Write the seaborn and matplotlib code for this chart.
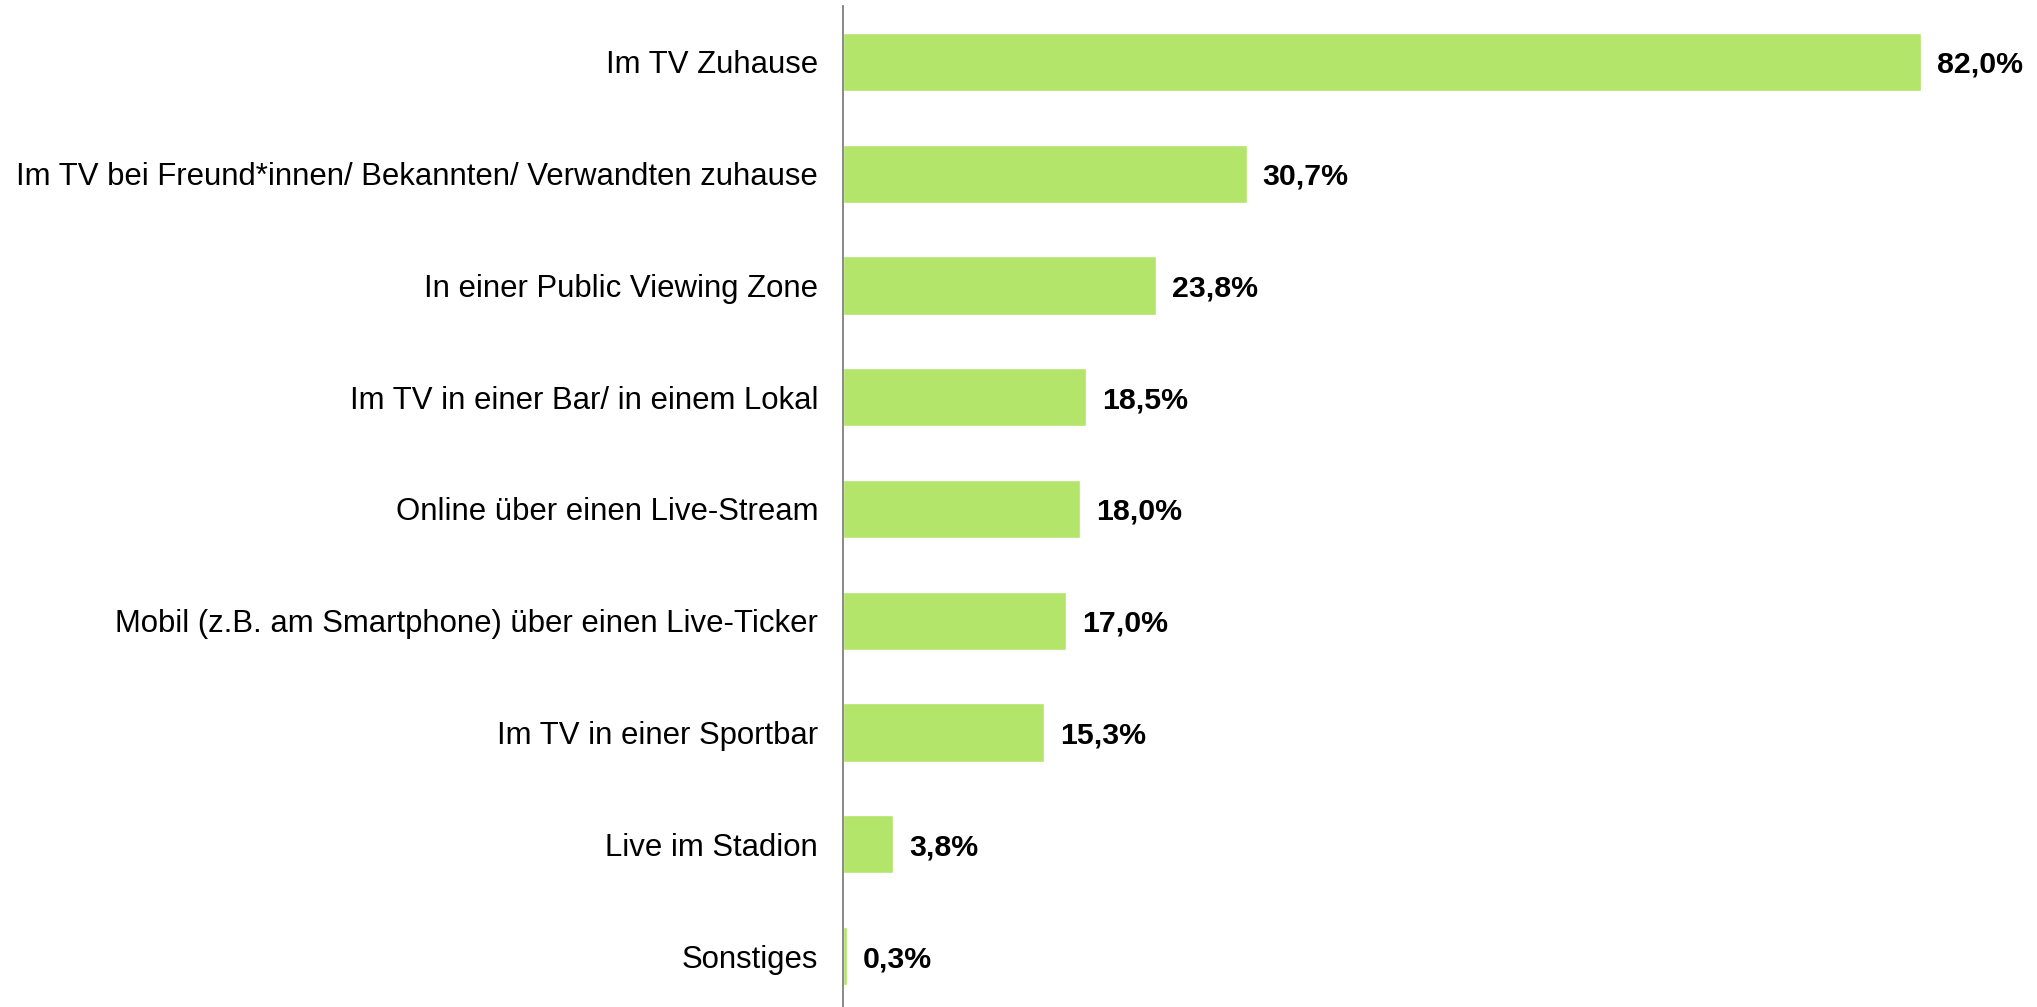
import matplotlib
matplotlib.use("Agg")
import matplotlib.pyplot as plt
import seaborn as sns
import pandas as pd

categories = [
    "Im TV Zuhause",
    "Im TV bei Freund*innen/ Bekannten/ Verwandten zuhause",
    "In einer Public Viewing Zone",
    "Im TV in einer Bar/ in einem Lokal",
    "Online über einen Live-Stream",
    "Mobil (z.B. am Smartphone) über einen Live-Ticker",
    "Im TV in einer Sportbar",
    "Live im Stadion",
    "Sonstiges",
]
values = [82.0, 30.7, 23.8, 18.5, 18.0, 17.0, 15.3, 3.8, 0.3]

df = pd.DataFrame({"cat": categories, "val": values})

sns.set_theme(style="white")
plt.rcParams['font.family'] = ['Liberation Sans', 'DejaVu Sans']

W, H = 2037, 1007
fig = plt.figure(figsize=(W / 100, H / 100), dpi=100)
left = 843 / W
top = 1 - 6 / H
bottom = 1 - 1012 / H
xmax = 90
width = xmax * 13.146 / W
ax = fig.add_axes([left, bottom, width, top - bottom])

sns.barplot(data=df, x="val", y="cat", color="#B2E56A", saturation=1,
            width=0.52, ax=ax, orient="h")
ax.set_xlim(0, xmax)
ax.set_ylim(len(categories) - 0.5, -0.5)
ax.set_xlabel("")
ax.set_ylabel("")
ax.set_xticks([])
for s in ["top", "right", "bottom"]:
    ax.spines[s].set_visible(False)
ax.spines["left"].set_color("#808080")
ax.spines["left"].set_linewidth(1.3)
ax.tick_params(axis="y", length=0, pad=18, labelsize=22.4, labelcolor="black")

for i, v in enumerate(values):
    ax.annotate(f"{v:.1f}%".replace(".", ","), xy=(v, i), xytext=(16, 0),
                textcoords="offset pixels", va="center_baseline", ha="left",
                fontsize=21.8, fontweight="bold", color="black")

fig.savefig("out.png", dpi=100)
